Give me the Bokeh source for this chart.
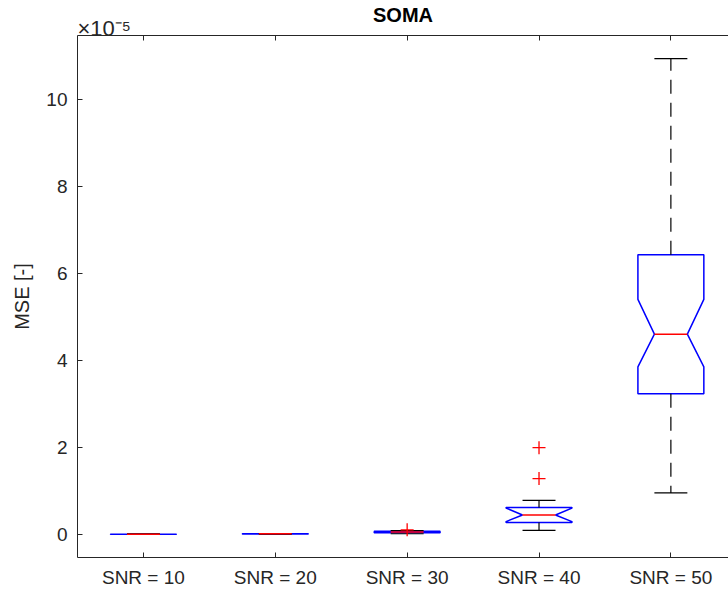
from bokeh.plotting import figure
from bokeh.models import Range1d, FixedTicker, LinearAxis, Title
from bokeh.embed import file_html
from bokeh.resources import INLINE

# values in units of 1e-5
categories = ["SNR = 10", "SNR = 20", "SNR = 30", "SNR = 40", "SNR = 50"]
lower_whisker = [0.0003, 0.003, 0.01, 0.09, 0.95]
q1 = [0.0005, 0.006, 0.035, 0.27, 3.23]
notch_lo = [0.0006, 0.007, 0.045, 0.29, 3.85]
median = [0.0007, 0.008, 0.052, 0.44, 4.60]
notch_hi = [0.0008, 0.009, 0.060, 0.60, 5.40]
q3 = [0.0009, 0.011, 0.068, 0.615, 6.43]
upper_whisker = [0.0012, 0.016, 0.085, 0.78, 10.94]
outlier_cat = [3, 4, 4]
outlier_val = [0.10, 1.28, 1.99]
yticks = [0, 2, 4, 6, 8, 10]

FONT = "Liberation Sans"
GREY = "#262626"
W = 0.25   # half box width
N = 0.125  # half notch / cap width

p = figure(width=728, height=591, output_backend="svg", toolbar_location=None,
           x_range=Range1d(0.5, 5.437), y_range=Range1d(-0.536, 11.47),
           min_border_left=77, min_border_right=0, min_border_top=35, min_border_bottom=34)
p.outline_line_color = None
p.xgrid.visible = False
p.ygrid.visible = False
p.background_fill_color = "white"
p.border_fill_color = "white"

xpos = list(range(1, len(categories) + 1))

# boxes
xs, ys = [], []
for i, x in enumerate(xpos):
    xs.append([x - W, x - W, x - N, x - W, x - W, x + W, x + W, x + N, x + W, x + W, x - W])
    ys.append([q1[i], notch_lo[i], median[i], notch_hi[i], q3[i], q3[i], notch_hi[i], median[i], notch_lo[i], q1[i], q1[i]])
p.patches(xs, ys, fill_color=None, line_color="#0000ff", line_width=1.5)

# whiskers
p.segment(x0=xpos, y0=q3, x1=xpos, y1=upper_whisker, line_color="black", line_width=1.2, line_dash="14 9")
p.segment(x0=xpos, y0=q1, x1=xpos, y1=lower_whisker, line_color="black", line_width=1.2, line_dash="14 9")
p.segment(x0=[x - N for x in xpos], y0=upper_whisker, x1=[x + N for x in xpos], y1=upper_whisker,
          line_color="black", line_width=1.2)
p.segment(x0=[x - N for x in xpos], y0=lower_whisker, x1=[x + N for x in xpos], y1=lower_whisker,
          line_color="black", line_width=1.2)

# medians
p.segment(x0=[x - N for x in xpos], y0=median, x1=[x + N for x in xpos], y1=median,
          line_color="#ff0000", line_width=1.5)

# outliers
p.scatter(x=outlier_cat, y=outlier_val, marker="cross", size=13, line_color="#ff0000", line_width=1.3)

# axes
for ax in (p.xaxis[0], p.yaxis[0]):
    ax.axis_line_color = GREY
    ax.major_tick_line_color = GREY
    ax.major_tick_in = 5
    ax.major_tick_out = 0
    ax.minor_tick_line_color = None
    ax.major_label_text_font = FONT
    ax.major_label_text_font_size = "19px"
    ax.major_label_text_color = GREY

p.xaxis.ticker = FixedTicker(ticks=xpos)
p.xaxis.major_label_overrides = {x: c for x, c in zip(xpos, categories)}
p.xaxis.major_label_standoff = 9
p.yaxis.ticker = FixedTicker(ticks=yticks)
p.yaxis.major_label_overrides = {t: str(t) for t in yticks}
p.yaxis.major_label_standoff = 10
p.yaxis.axis_label = "MSE [-]"
p.yaxis.axis_label_text_font = FONT
p.yaxis.axis_label_text_font_size = "20px"
p.yaxis.axis_label_text_font_style = "normal"
p.yaxis.axis_label_text_color = GREY
p.yaxis.axis_label_standoff = 10

top = LinearAxis(ticker=FixedTicker(ticks=xpos), axis_line_color=GREY, major_tick_line_color=GREY,
                 major_tick_in=5, major_tick_out=0, minor_tick_line_color=None,
                 major_label_overrides={x: "" for x in xpos}, major_label_standoff=0)
p.add_layout(top, "above")

# exponent and title
expo = Title(text="×10⁻⁵", align="left", standoff=-11)
expo.text_font = FONT
expo.text_font_size = "22px"
expo.text_font_style = "normal"
expo.text_color = GREY
p.add_layout(expo, "above")
p.title.text = "SOMA"
p.title.align = "center"
p.title.text_font = FONT
p.title.text_font_size = "20px"
p.title.text_font_style = "bold"
p.title.text_color = "black"
p.title.standoff = -13

open("out.html", "w").write(file_html(p, INLINE))
